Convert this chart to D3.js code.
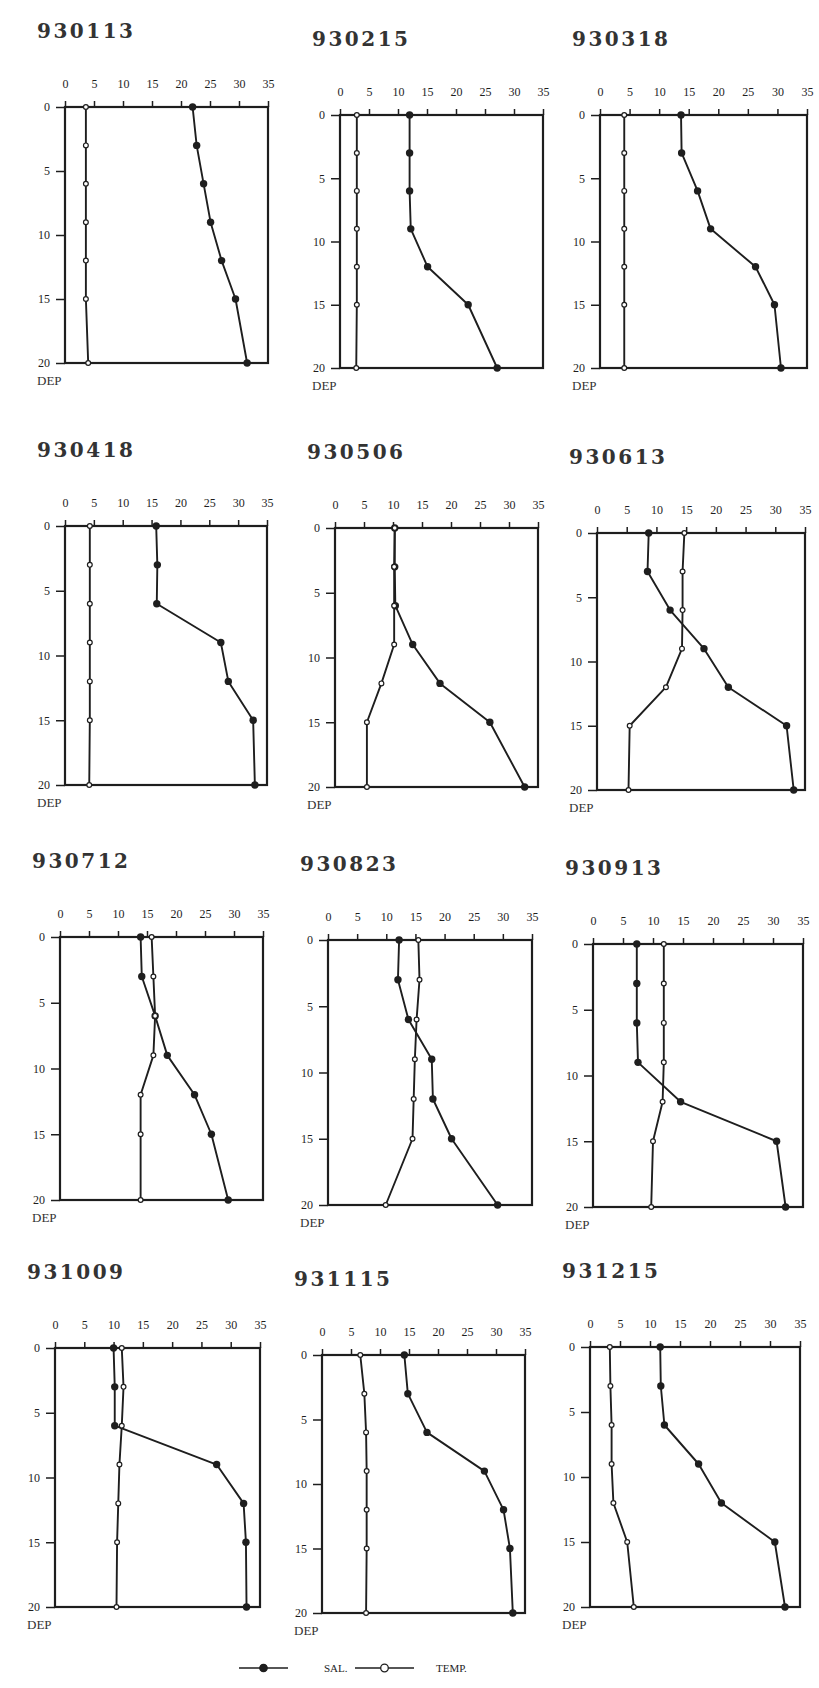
<!DOCTYPE html>
<html>
<head>
<meta charset="utf-8">
<script src="https://cdn.jsdelivr.net/npm/d3@7"></script>
<style>
  body { margin: 0; background: #fff; }
  svg { display: block; }
</style>
</head>
<body>
<svg id="chart" width="819" height="1688"></svg>
<script>
// Sampling depths (m) shared by every station profile
const depths = [0, 3, 6, 9, 12, 15, 20];

// Station / survey dates (YYMMDD)
const stations = ["930113", "930215", "930318", "930418", "930506", "930613",
                  "930712", "930823", "930913", "931009", "931115", "931215"];

// Salinity per station, one value per depth
const salinity = [
  [22.0, 22.7, 23.9, 25.1, 27.0, 29.4, 31.4],
  [12.0, 12.0, 12.0, 12.2, 15.1, 22.1, 27.1],
  [13.7, 13.8, 16.5, 18.7, 26.3, 29.5, 30.6],
  [15.8, 16.0, 15.9, 27.0, 28.3, 32.6, 32.9],
  [10.3, 10.3, 10.4, 13.4, 18.1, 26.7, 32.7],
  [8.7, 8.5, 12.3, 18.0, 22.1, 31.9, 33.1],
  [13.9, 14.1, 16.4, 18.5, 23.2, 26.1, 29.0],
  [12.2, 12.0, 13.8, 17.8, 18.0, 21.2, 29.1],
  [7.3, 7.3, 7.3, 7.5, 14.6, 30.6, 32.1],
  [10.0, 10.2, 10.2, 27.6, 32.2, 32.6, 32.7],
  [14.2, 14.8, 18.1, 28.0, 31.3, 32.4, 32.9],
  [11.7, 11.8, 12.4, 18.1, 21.9, 30.8, 32.5]
];

// Water temperature (°C) per station, one value per depth
const temperature = [
  [3.6, 3.6, 3.6, 3.6, 3.6, 3.6, 4.0],
  [2.9, 2.9, 2.9, 2.9, 2.9, 2.9, 2.8],
  [4.1, 4.1, 4.1, 4.1, 4.1, 4.1, 4.1],
  [4.3, 4.3, 4.3, 4.3, 4.3, 4.3, 4.2],
  [10.3, 10.2, 10.2, 10.2, 8.0, 5.5, 5.5],
  [14.7, 14.4, 14.4, 14.3, 11.6, 5.5, 5.3],
  [15.8, 16.1, 16.4, 16.1, 13.9, 13.9, 13.9],
  [15.5, 15.7, 15.2, 14.9, 14.7, 14.5, 9.9],
  [11.8, 11.8, 11.8, 11.8, 11.6, 10.0, 9.7],
  [11.4, 11.7, 11.4, 11.0, 10.8, 10.6, 10.5],
  [6.6, 7.3, 7.6, 7.7, 7.7, 7.7, 7.6],
  [3.3, 3.4, 3.6, 3.6, 3.9, 6.2, 7.3]
];

// Axis tick values
const valueTicks = [0, 5, 10, 15, 20, 25, 30, 35];
const depthTicks = [0, 5, 10, 15, 20];

// Legend entries
const legendItems = ["SAL.", "TEMP."];

// Plot frame of each panel: [left, top, width, height]
const panelFrames = [
  [65, 107, 203, 256], [340, 115, 203, 253], [600, 115, 207, 253],
  [65, 526, 202, 259], [335, 528, 203, 259], [597, 533, 208, 257],
  [60, 937, 203, 263], [328, 940, 204, 265], [593, 944, 210, 263],
  [55, 1348, 205, 259], [322, 1355, 203, 258], [590, 1347, 210, 260]
];

const ink = "#1e1e1e";
const svg = d3.select("#chart");

stations.forEach((name, i) => {
  const [x0, y0, w, h] = panelFrames[i];
  const x = d3.scaleLinear().domain([0, 35]).range([x0, x0 + w]);
  const y = d3.scaleLinear().domain([0, 20]).range([y0, y0 + h]);
  const g = svg.append("g").attr("class", "panel");

  // station title
  g.append("text")
    .attr("x", x0 - 28)
    .attr("y", y0 - 69)
    .attr("font-family", "DejaVu Serif")
    .attr("font-weight", "bold")
    .attr("font-size", 20)
    .attr("letter-spacing", 2.5)
    .attr("fill", "#333")
    .text(name);

  // top value axis
  const top = g.append("g")
    .attr("transform", `translate(0,${y0})`)
    .call(d3.axisTop(x).tickValues(valueTicks).tickSize(6).tickPadding(13));
  top.select(".domain").remove();

  // left depth axis
  const left = g.append("g")
    .attr("transform", `translate(${x0},0)`)
    .call(d3.axisLeft(y).tickValues(depthTicks).tickSize(9).tickPadding(6));
  left.select(".domain").remove();

  [top, left].forEach(a => {
    a.selectAll("line").attr("stroke", ink).attr("stroke-width", 1.5);
    a.selectAll("text")
      .attr("font-family", "Liberation Serif")
      .attr("font-size", 12)
      .attr("fill", ink);
  });

  // frame
  g.append("rect")
    .attr("x", x0).attr("y", y0)
    .attr("width", w).attr("height", h)
    .attr("fill", "none")
    .attr("stroke", ink)
    .attr("stroke-width", 2.2);

  // depth label
  g.append("text")
    .attr("x", x0 - 28)
    .attr("y", y0 + h + 22)
    .attr("font-family", "Liberation Serif")
    .attr("font-size", 13)
    .attr("fill", "#333")
    .text("DEP");

  const line = d3.line()
    .x(d => x(d.v))
    .y(d => y(d.d));

  const tempPts = depths.map((d, k) => ({ d, v: temperature[i][k] }));
  const salPts = depths.map((d, k) => ({ d, v: salinity[i][k] }));

  // temperature profile
  g.append("path").datum(tempPts)
    .attr("d", line).attr("fill", "none")
    .attr("stroke", ink).attr("stroke-width", 1.9)
    .attr("stroke-linejoin", "round");
  // salinity profile
  g.append("path").datum(salPts)
    .attr("d", line).attr("fill", "none")
    .attr("stroke", ink).attr("stroke-width", 1.9)
    .attr("stroke-linejoin", "round");

  g.selectAll(".sal").data(salPts).join("circle")
    .attr("class", "sal")
    .attr("cx", d => x(d.v)).attr("cy", d => y(d.d))
    .attr("r", 3.7).attr("fill", ink);

  g.selectAll(".temp").data(tempPts).join("circle")
    .attr("class", "temp")
    .attr("cx", d => x(d.v)).attr("cy", d => y(d.d))
    .attr("r", 2.4).attr("fill", "#fff")
    .attr("stroke", ink).attr("stroke-width", 1.2);
});

// legend
const legend = svg.append("g").attr("class", "legend");
const ly = 1668;
const legendLayout = [
  { x1: 239, x2: 288, label: 324, filled: true },
  { x1: 355, x2: 414, label: 436, filled: false }
];
legendLayout.forEach((L, k) => {
  legend.append("line")
    .attr("x1", L.x1).attr("x2", L.x2)
    .attr("y1", ly).attr("y2", ly)
    .attr("stroke", ink).attr("stroke-width", 1.6);
  legend.append("circle")
    .attr("cx", (L.x1 + L.x2) / 2).attr("cy", ly)
    .attr("r", L.filled ? 3.7 : 3.8)
    .attr("fill", L.filled ? ink : "#fff")
    .attr("stroke", ink).attr("stroke-width", 1.3);
  legend.append("text")
    .attr("x", L.label).attr("y", ly + 4)
    .attr("font-family", "Liberation Serif")
    .attr("font-size", 11)
    .attr("fill", ink)
    .text(legendItems[k]);
});
</script>
</body>
</html>
